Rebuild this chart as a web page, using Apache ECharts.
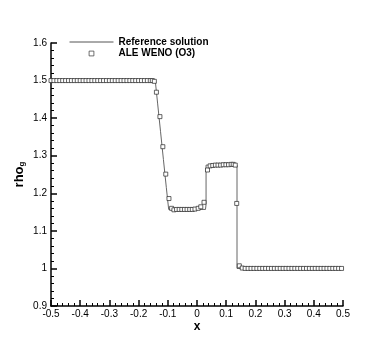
<!DOCTYPE html>
<html>
<head>
<meta charset="utf-8">
<script src="https://cdn.jsdelivr.net/npm/echarts@6.0.0/dist/echarts.min.js"></script>
<style>
    html, body { margin: 0; padding: 0; background: #fff; }
    #mapChart { width: 390px; height: 347px; }
</style>
</head>
<body>
<div id="mapChart"></div>
<script>
// reference solution (exact)
var refX = [-0.5, -0.143, -0.135, -0.125, -0.115, -0.105, -0.097, 0.029, 0.031, 0.031, 0.137, 0.137, 0.5];
var refY = [1.5, 1.5, 1.44, 1.365, 1.29, 1.215, 1.157, 1.157, 1.17, 1.275, 1.275, 1.0, 1.0];

// ALE WENO (O3) cell values
var wenoX = [
    -0.50, -0.49, -0.48, -0.47, -0.46, -0.45, -0.44, -0.43, -0.42, -0.41,
    -0.40, -0.39, -0.38, -0.37, -0.36, -0.35, -0.34, -0.33, -0.32, -0.31,
    -0.30, -0.29, -0.28, -0.27, -0.26, -0.25, -0.24, -0.23, -0.22, -0.21,
    -0.20, -0.19, -0.18, -0.17, -0.16, -0.153, -0.146,
    -0.139, -0.127, -0.117, -0.107, -0.096, -0.087, -0.079,
    -0.070, -0.061, -0.052, -0.043, -0.034, -0.025, -0.016, -0.007, 0.004, 0.013, 0.024,
    0.036,
    0.045, 0.054, 0.063, 0.072, 0.081, 0.090, 0.099, 0.108, 0.117, 0.124, 0.131,
    0.136,
    0.145, 0.155, 0.165, 0.175, 0.185, 0.195, 0.205, 0.215, 0.225, 0.235,
    0.245, 0.255, 0.265, 0.275, 0.285, 0.295, 0.305, 0.315, 0.325, 0.335,
    0.345, 0.355, 0.365, 0.375, 0.385, 0.395, 0.405, 0.415, 0.425, 0.435,
    0.445, 0.455, 0.465, 0.475, 0.485, 0.495
];
var wenoY = [
    1.5, 1.5, 1.5, 1.5, 1.5, 1.5, 1.5, 1.5, 1.5, 1.5,
    1.5, 1.5, 1.5, 1.5, 1.5, 1.5, 1.5, 1.5, 1.5, 1.5,
    1.5, 1.5, 1.5, 1.5, 1.5, 1.5, 1.5, 1.5, 1.5, 1.5,
    1.5, 1.5, 1.5, 1.5, 1.5, 1.5, 1.498,
    1.469, 1.404, 1.324, 1.251, 1.186, 1.160, 1.156,
    1.157, 1.157, 1.157, 1.157, 1.157, 1.157, 1.157, 1.158, 1.160, 1.164, 1.176,
    1.262,
    1.273, 1.274, 1.275, 1.275, 1.275, 1.276, 1.276, 1.276, 1.277, 1.277, 1.275,
    1.173,
    1.007, 1.001, 1.0, 1.0, 1.0, 1.0, 1.0, 1.0, 1.0, 1.0,
    1.0, 1.0, 1.0, 1.0, 1.0, 1.0, 1.0, 1.0, 1.0, 1.0,
    1.0, 1.0, 1.0, 1.0, 1.0, 1.0, 1.0, 1.0, 1.0, 1.0,
    1.0, 1.0, 1.0, 1.0, 1.0, 1.0
];

var xTicks = { min: -0.5, max: 0.5, step: 0.1 };
var yTicks = { min: 0.9, max: 1.6, step: 0.1 };

var myChart = echarts.init(document.getElementById("mapChart"));

function zip(xs, ys) {
    var arr = [];
    for (var i = 0; i < xs.length; i++) {
        arr.push([xs[i], ys[i]]);
    }
    return arr;
}

var font = "Liberation Sans";

var axisCommon = {
    axisLine: { show: true, onZero: false, lineStyle: { color: "#000", width: 1.5 } },
    axisTick: { show: true, inside: true, length: 6, lineStyle: { color: "#000", width: 1.5 } },
    minorTick: { show: true, splitNumber: 5, length: 3, lineStyle: { color: "#000", width: 1 } },
    splitLine: { show: false }
};

option = {
    animation: false,
    backgroundColor: "#fff",
    grid: { left: 51, right: 47, top: 43, bottom: 41 },
    legend: {
        orient: "vertical",
        left: 64,
        top: 32,
        itemWidth: 44,
        itemHeight: 6,
        itemGap: 1.5,
        textStyle: { color: "#000", fontSize: 10, fontWeight: "bold", fontFamily: font },
        data: [
            { name: "Reference solution", itemStyle: { opacity: 0 }, lineStyle: { width: 1, color: "#555" } },
            { name: "ALE WENO (O3)", lineStyle: { opacity: 0 }, itemStyle: { borderWidth: 0.7, borderColor: "#333", color: "#fff" } }
        ]
    },
    xAxis: Object.assign({}, axisCommon, {
        type: "value",
        min: xTicks.min,
        max: xTicks.max,
        interval: xTicks.step,
        name: "x",
        nameLocation: "middle",
        nameMoveOverlap: false,
        nameGap: 15,
        nameTextStyle: { color: "#000", fontSize: 12, fontWeight: "bold", fontFamily: font },
        axisLabel: { color: "#000", fontSize: 10, fontFamily: font, margin: 3 }
    }),
    yAxis: Object.assign({}, axisCommon, {
        type: "value",
        min: yTicks.min,
        max: yTicks.max,
        interval: yTicks.step,
        name: "{a|rho}{b|g}",
        nameLocation: "middle",
        nameRotate: 90,
        nameMoveOverlap: false,
        nameGap: 25,
        nameTextStyle: {
            color: "#000",
            fontFamily: font,
            rich: {
                a: { fontSize: 13, fontWeight: "bold", fontFamily: font, color: "#000", lineHeight: 13, verticalAlign: "top" },
                b: { fontSize: 8, fontWeight: "bold", fontFamily: font, color: "#000", lineHeight: 8, verticalAlign: "bottom", padding: [6, 0, 0, 0] }
            }
        },
        axisLabel: { color: "#000", fontSize: 10, fontFamily: font, margin: 4 }
    }),
    series: [{
        name: "Reference solution",
        type: "line",
        data: zip(refX, refY),
        symbol: "none",
        lineStyle: { color: "#555", width: 0.9 },
        itemStyle: { color: "#555" },
        z: 2
    }, {
        name: "ALE WENO (O3)",
        type: "line",
        data: zip(wenoX, wenoY),
        symbol: "rect",
        symbolSize: 4,
        showSymbol: true,
        showAllSymbol: true,
        lineStyle: { width: 0, opacity: 0 },
        itemStyle: { color: "#fff", borderColor: "#222", borderWidth: 0.7 },
        z: 3
    }]
};

myChart.setOption(option);
</script>
</body>
</html>
